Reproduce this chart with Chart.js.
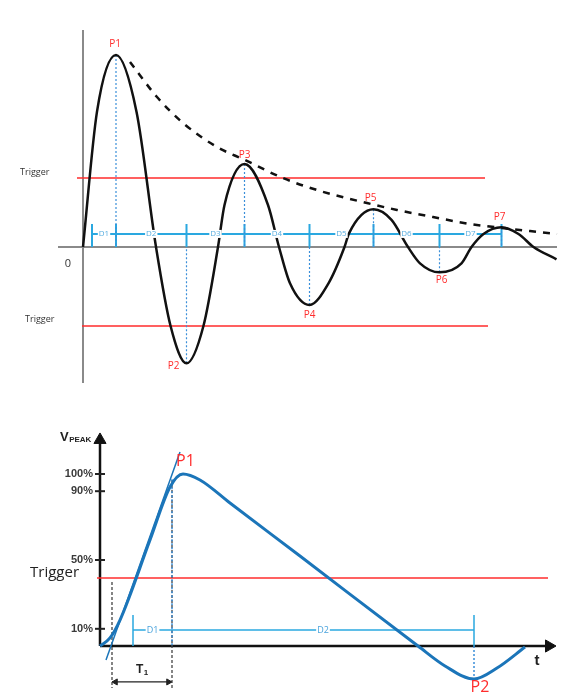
<!DOCTYPE html>
<html>
<head>
<meta charset="utf-8">
<script src="https://cdn.jsdelivr.net/npm/chart.js@4"></script>
<style>
  html, body { margin: 0; padding: 0; background: #fff; }
  #wrap { position: relative; width: 563px; height: 692px; }
  #ringing { position: absolute; left: 0; top: 0; }
  #pulse { position: absolute; left: 0; top: 400px; }
</style>
</head>
<body>
<div id="wrap">
  <canvas id="ringing" width="563" height="400"></canvas>
  <canvas id="pulse" width="563" height="292"></canvas>
</div>
<script>
// ---- top: damped ringing (time in arbitrary units, amplitude in % of P1)
const waveT = [0, 2.8, 6.6, 10.7, 14.6, 17.5, 20.7, 24.1, 27, 28.3, 32.3, 37, 39.2, 41.4, 45.3, 49.1,
  52.3, 53.2, 58.1, 61.7, 65, 67.4, 71.3, 75.7, 77.7, 80.1, 83.7, 87.1, 90.1, 94.7];
const waveV = [0, 70.5, 100, 70.5, 0, -41, -60.6, -41, 0, 21.9, 43.2, 21.9, 0, -18.9, -30.2, -18.9,
  0, 7.1, 19.6, 14.1, 0, -8.5, -13.2, -8.5, 0, 6.8, 10.3, 6.8, 0, -6.4];
const peakNames = ["P1", "P2", "P3", "P4", "P5", "P6", "P7"];
const peakT = [6.6, 20.7, 32.3, 45.3, 58.1, 71.3, 83.7];
const peakV = [100, -60.6, 43.2, -30.2, 19.6, -13.2, 10.3];
const envT = [9.4, 14.8, 20, 26.8, 32.4, 40, 47.4, 56.8, 62.8, 70, 77.4, 83.8, 89.4, 94.8];
const envV = [96.4, 78.1, 64.6, 52.1, 45.3, 35.9, 29.2, 22.9, 19.3, 15.6, 12, 9.9, 8.3, 6.8];
const triggerHigh = 35.9, triggerLow = -41.1;
const dNames = ["D1", "D2", "D3", "D4", "D5", "D6", "D7"];
const dStartT = 1.8, dLevel = 6.8;

// ---- bottom: single pulse (time in arbitrary units, % of VPEAK)
const pulseT = [0, 2, 4, 10, 14, 16.6, 20, 26, 40, 63.6, 69, 74.8, 79.4, 85];
const pulseV = [0, 4.7, 15.1, 61.6, 92.4, 100, 96.5, 83.1, 52.3, 0, -11.6, -19.2, -12.8, -0.6];
const tangentT = [1.2, 16];
const tangentV = [-8.1, 112.8];
const tickValues = [100, 90, 50, 10];
const tickLabels = ["100%", "90%", "50%", "10%"];
const pulseTrigger = 39.5;
const t1Start = 2.4, t1End = 14.4;
const p1T = 14.4, p2T = 74.8, p2V = -19.2;
const pulseDNames = ["D1", "D2"];
const pulseDStart = 6.6, pulseDLevel = 9.3;

const RED = "#ff2d2d", LIGHTBLUE = "#2aa8e0", GRAY = "#8a8a8a";
const PULSE = "#1b75b9";

const pts = (ts, vs) => ts.map((t, i) => ({ x: t, y: vs[i] }));
// several segments in one dataset, split with gaps
const segs = list => list.flatMap(s => [{ x: s[0], y: s[1] }, { x: s[2], y: s[3] }, { x: s[2], y: null }]);

function line(data, color, width, extra) {
  return Object.assign({ data, borderColor: color, borderWidth: width, pointRadius: 0,
    tension: 0, fill: false, spanGaps: false }, extra || {});
}

function textPlugin(items) {
  return {
    id: "texts",
    afterDatasetsDraw(chart) {
      const { ctx, scales: { x, y } } = chart;
      ctx.save();
      ctx.textBaseline = "middle";
      items.forEach(it => {
        let px = x.getPixelForValue(it.t) + (it.dx || 0);
        const py = y.getPixelForValue(it.v) + (it.dy || 0);
        ctx.font = it.font;
        ctx.textAlign = it.align || "center";
        const w = ctx.measureText(it.text).width;
        if (it.bg) {
          ctx.fillStyle = it.bg;
          ctx.fillRect(px - w / 2 - 1, py - 4, w + 2, 8);
        }
        ctx.fillStyle = it.color;
        ctx.fillText(it.text, px, py);
        if (it.sub) {
          ctx.font = it.subFont;
          ctx.textAlign = "left";
          ctx.fillText(it.sub, px + w + 0.5, py + (it.subDy || 3));
        }
      });
      ctx.restore();
    }
  };
}

function baseOptions(xmin, xmax, ymin, ymax) {
  return {
    responsive: false,
    devicePixelRatio: 1,
    animation: false,
    layout: { padding: 0, autoPadding: false },
    plugins: { legend: { display: false }, tooltip: { enabled: false } },
    scales: {
      x: { type: "linear", min: xmin, max: xmax, display: false },
      y: { type: "linear", min: ymin, max: ymax, display: false }
    }
  };
}

// ---------- top chart ----------
const dTicks = [dStartT].concat(peakT);
const topItems = [
  { text: "Trigger", t: -12.6, v: triggerHigh, dy: -6, align: "left", font: '9px "Open Sans"', color: "#333" },
  { text: "Trigger", t: -11.6, v: triggerLow, dy: -6, align: "left", font: '9px "Open Sans"', color: "#333" },
  { text: "0", t: -3, v: 0, dy: 17, font: '11px "Open Sans"', color: "#333" }
];
const peakOffsets = [[-1, -11], [-13, 3], [0, -9], [0, 10], [-3, -11], [2, 8], [-2, -10]];
peakNames.forEach((n, i) => topItems.push({ text: n, t: peakT[i], v: peakV[i],
  dx: peakOffsets[i][0], dy: peakOffsets[i][1], font: '10px "Open Sans"', color: RED }));
dNames.forEach((n, i) => topItems.push({ text: n, t: (dTicks[i] + dTicks[i + 1]) / 2, v: dLevel,
  font: '8px "Open Sans"', color: "#5aaee0", bg: "#fff" }));

new Chart(document.getElementById("ringing"), {
  type: "line",
  data: {
    datasets: [
      line(pts(waveT, waveV), "#111", 2.5, { cubicInterpolationMode: "monotone" }),
      line(pts(envT, envV), "#111", 2.5, { cubicInterpolationMode: "monotone", borderDash: [7, 7] }),
      line(segs(peakT.map((t, i) => [t, peakV[i], t, 0])), "#3b8fd9", 1.2, { borderDash: [2, 2] }),
      line(segs(dTicks.map(t => [t, 12, t, 0])), LIGHTBLUE, 2),
      line(pts([dStartT, peakT[peakT.length - 1]], [dLevel, dLevel]), LIGHTBLUE, 2),
      line(segs([[-1.2, triggerHigh, 80.4, triggerHigh], [-0.2, triggerLow, 81, triggerLow]]), RED, 1.5),
      line(segs([[-5, 0, 94.8, 0], [0, 113, 0, -70.8]]), GRAY, 2)
    ]
  },
  options: baseOptions(-16.6, 96, -79.69, 128.65),
  plugins: [textPlugin(topItems)]
});

// ---------- bottom chart ----------
const pulseDTicks = [pulseDStart, p1T, p2T];
const bottomItems = [
  { text: "V", t: -8, v: 121.5, align: "left", font: 'bold 13px "Liberation Sans"', color: "#222",
    sub: "PEAK", subFont: 'bold 8px "Liberation Sans"', subDy: 3 },
  { text: "Trigger", t: -14, v: pulseTrigger, dy: -5, align: "left", font: '15px "Open Sans"', color: "#222" },
  { text: "P1", t: 15.2, v: 100, dy: -13, align: "left", font: '16px "Open Sans"', color: RED },
  { text: "P2", t: p2T + 1.2, v: p2V, dy: 8, font: '16px "Open Sans"', color: RED },
  { text: "T", t: 7.2, v: -20.9, dy: -12, align: "left", font: 'bold 12px "Liberation Sans"', color: "#222",
    sub: "1", subFont: 'bold 8px "Liberation Sans"', subDy: 3 },
  { text: "t", t: 87.4, v: 0, dy: 15, font: 'bold 15px "Liberation Sans"', color: "#222" }
];
tickValues.forEach((v, i) => bottomItems.push({ text: tickLabels[i], t: -1.4, v, align: "right",
  font: 'bold 11px "Liberation Sans"', color: "#3a3a3a" }));
pulseDNames.forEach((n, i) => bottomItems.push({ text: n, t: (pulseDTicks[i] + pulseDTicks[i + 1]) / 2,
  v: pulseDLevel, font: '9px "Open Sans"', color: "#4aa3dc", bg: "#fff" }));

new Chart(document.getElementById("pulse"), {
  type: "line",
  data: {
    datasets: [
      line(pts(pulseT, pulseV), PULSE, 3, { cubicInterpolationMode: "monotone" }),
      line(pts(tangentT, tangentV), PULSE, 1.5),
      line(segs([[p1T, 97, p1T, 0], [p2T, 0, p2T, p2V]]), "#3b8fd9", 1.5, { borderDash: [2, 2] }),
      line(segs([[pulseDStart, 18, pulseDStart, 0], [p2T, 18, p2T, 0]]), LIGHTBLUE, 1.5),
      line(pts([pulseDStart, p2T], [pulseDLevel, pulseDLevel]), LIGHTBLUE, 1.5),
      line(segs([[t1Start, 37.2, t1Start, -24.4], [t1End, 96.5, t1End, -24.4]]), "#444", 1.3, { borderDash: [3, 2] }),
      line(pts([t1Start, t1End], [-20.9, -20.9]), "#222", 1.3),
      line(pts([t1Start + 0.7, t1End - 0.7], [-20.9, -20.9]), "#222", 1, { showLine: false, pointRadius: 3.5,
        pointStyle: "triangle", pointRotation: [270, 90], pointBackgroundColor: "#222" }),
      line(pts([-0.6, 89.6], [pulseTrigger, pulseTrigger]), RED, 1.5),
      line(pts(tickValues.map(() => 0), tickValues), "#222", 2, { showLine: false, pointRadius: 5,
        pointStyle: "line", pointBorderColor: "#222" }),
      line(pts([0, 89.8], [119.8, 0]), "#111", 1, { showLine: false, pointRadius: 7,
        pointStyle: "triangle", pointRotation: [0, 90], pointBackgroundColor: "#111" }),
      line(segs([[0, 119.8, 0, 0], [0, 0, 89.8, 0]]), "#111", 2.5)
    ]
  },
  options: baseOptions(-20, 92.6, -26.74, 143.02),
  plugins: [textPlugin(bottomItems)]
});
</script>
</body>
</html>
